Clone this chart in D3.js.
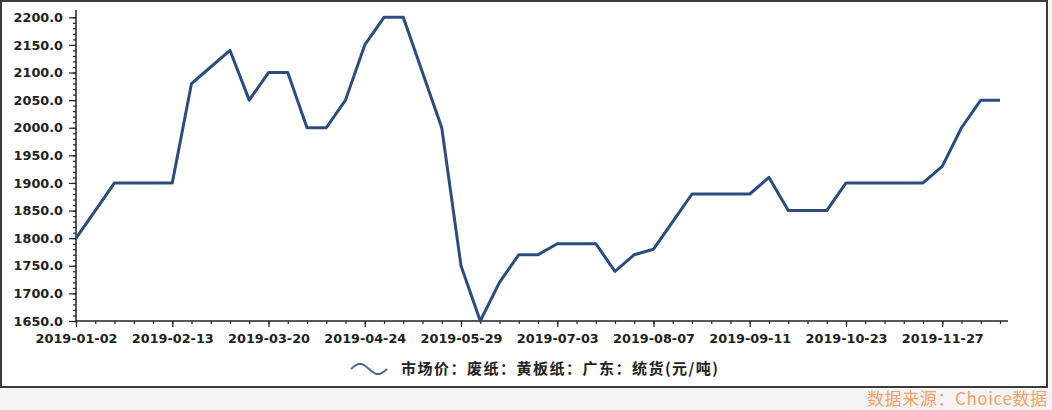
<!DOCTYPE html>
<html><head><meta charset="utf-8">
<script src="https://cdn.jsdelivr.net/npm/d3@7"></script>
<style>
html,body{margin:0;padding:0;background:#f4f4f4;}
svg{display:block;}
</style></head>
<body>
<svg id="chart" width="1052" height="410"></svg>
<script>
const dates = ["2019-01-02","2019-01-09","2019-01-16","2019-01-23","2019-01-30","2019-02-13","2019-02-20","2019-02-27","2019-03-06","2019-03-13","2019-03-20","2019-03-27","2019-04-03","2019-04-10","2019-04-17","2019-04-24","2019-05-01","2019-05-08","2019-05-15","2019-05-22","2019-05-29","2019-06-05","2019-06-12","2019-06-19","2019-06-26","2019-07-03","2019-07-10","2019-07-17","2019-07-24","2019-07-31","2019-08-07","2019-08-14","2019-08-21","2019-08-28","2019-09-04","2019-09-11","2019-09-18","2019-09-25","2019-10-09","2019-10-16","2019-10-23","2019-10-30","2019-11-06","2019-11-13","2019-11-20","2019-11-27","2019-12-04","2019-12-11","2019-12-18"];
const prices = [1800,1850,1900,1900,1900,1900,2080,2110,2140,2050,2100,2100,2000,2000,2050,2150,2200,2200,2100,2000,1750,1650,1720,1770,1770,1790,1790,1790,1740,1770,1780,1830,1880,1880,1880,1880,1910,1850,1850,1850,1900,1900,1900,1900,1900,1930,2000,2050,2050];
const xTickLabels = ["2019-01-02","2019-02-13","2019-03-20","2019-04-24","2019-05-29","2019-07-03","2019-08-07","2019-09-11","2019-10-23","2019-11-27"];
const yTicks = [1650,1700,1750,1800,1850,1900,1950,2000,2050,2100,2150,2200];
const yMinorTicks = d3.range(1650, 2201, 10);
const seriesName = "市场价：废纸：黄板纸：广东：统货(元/吨)";
const sourceText = "数据来源：Choice数据";

const svg = d3.select("#chart");
const font = "'DejaVu Sans', sans-serif";

// frame
svg.append("rect").attr("x",1).attr("y",1).attr("width",1046).attr("height",386)
  .attr("fill","#fff").attr("stroke","#3a3a3a").attr("stroke-width",2);

const x = d3.scalePoint().domain(dates).range([76, 1000]).padding(0);
const y = d3.scaleLinear().domain([1650, 2200]).range([321, 17.3]);

// y axis
const gy = svg.append("g").attr("transform","translate(76,0)");
gy.append("line").attr("x1",0).attr("x2",0).attr("y1",10).attr("y2",321).attr("stroke","#222").attr("stroke-width",1.5);
gy.call(g => {
  const minor = d3.axisLeft(y).tickValues(yMinorTicks).tickSize(3).tickFormat("");
  g.append("g").call(minor);
  const major = d3.axisLeft(y).tickValues(yTicks).tickSize(7).tickPadding(6).tickFormat(d3.format(".1f"));
  g.append("g").call(major);
  g.selectAll(".domain").remove();
  g.selectAll(".tick line").attr("stroke","#222").attr("stroke-width",1.2);
  g.selectAll(".tick text").attr("font-family",font).attr("font-weight","bold").attr("font-size","12.8px").attr("fill","#222");
});

// x axis
const gx = svg.append("g").attr("transform","translate(0,321)");
gx.append("line").attr("x1",76).attr("x2",1008).attr("y1",0).attr("y2",0).attr("stroke","#222").attr("stroke-width",1.5);
gx.call(g => {
  const minor = d3.axisBottom(x).tickValues(dates).tickSize(3).tickFormat("");
  g.append("g").call(minor);
  const major = d3.axisBottom(x).tickValues(xTickLabels).tickSize(6).tickPadding(7);
  g.append("g").call(major);
  g.selectAll(".domain").remove();
  g.selectAll(".tick line").attr("stroke","#222").attr("stroke-width",1.2);
  g.selectAll(".tick text").attr("font-family",font).attr("font-weight","bold").attr("font-size","12.8px").attr("fill","#222");
});

// line
const line = d3.line().x((d,i)=>x(dates[i])).y(d=>y(d));
svg.append("path").datum(prices).attr("d", line).attr("fill","none")
  .attr("stroke","#2b4c7e").attr("stroke-width",3).attr("stroke-linejoin","round");

// legend
const lg = svg.append("g").attr("transform","translate(351,369)");
const wave = d3.range(0, 37).map(i => [i, -5*Math.sin(i/36*2*Math.PI)]);
lg.append("path").attr("d", d3.line().curve(d3.curveBasis)(wave)).attr("fill","none")
  .attr("stroke","#4a6a98").attr("stroke-width",2);
lg.append("text").attr("x",50).attr("y",0).attr("dy","0.36em")
  .attr("font-family","'Noto Sans CJK SC', sans-serif").attr("font-size","15px").attr("font-weight","bold")
  .attr("fill","#222").attr("textLength",317).attr("lengthAdjust","spacing").text(seriesName);

// source
svg.append("text").attr("x",1047).attr("y",405).attr("text-anchor","end")
  .attr("font-family","'Noto Sans CJK SC', sans-serif").attr("font-size","17px")
  .attr("fill","#f4a068").attr("textLength",180).attr("lengthAdjust","spacing").text(sourceText);
</script>
</body></html>
